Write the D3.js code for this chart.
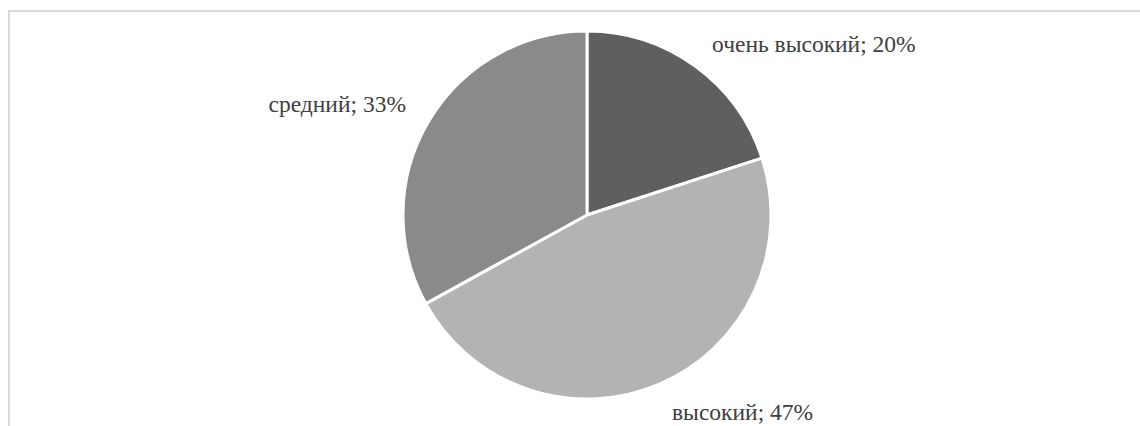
<!DOCTYPE html>
<html><head><meta charset="utf-8">
<script src="https://cdn.jsdelivr.net/npm/d3@7"></script>
<style>html,body{margin:0;padding:0;background:#fff;}svg{display:block;}
text.lbl{font-family:"Liberation Serif","Times New Roman",serif;}</style>
</head><body>
<svg id="c" width="1140" height="426"></svg>
<script>
const categories = ["очень высокий", "высокий", "средний"];
const values = [20, 47, 33];
const colors = ["#5f5f5f", "#b3b3b3", "#8a8a8a"];
const labelPos = [[712, 52, "start"], [672, 420, "start"], [406, 112, "end"]];

const svg = d3.select("#c");
svg.append("path").attr("d", "M9,426 V11 H1140").attr("fill", "none").attr("stroke", "#d9d9d9").attr("stroke-width", 2);

const cx = 587, cy = 215, r = 184;
const pie = d3.pie().sort(null).value(d => d)(values);
const arc = d3.arc().innerRadius(0).outerRadius(r);
const g = svg.append("g").attr("transform", `translate(${cx},${cy})`);
g.selectAll("path").data(pie).join("path")
  .attr("d", arc).attr("fill", (d, i) => colors[i])
  .attr("stroke", "#fff").attr("stroke-width", 3).attr("stroke-linejoin", "round");

svg.selectAll("text.lbl").data(pie).join("text").attr("class", "lbl")
  .attr("x", (d, i) => labelPos[i][0]).attr("y", (d, i) => labelPos[i][1])
  .attr("text-anchor", (d, i) => labelPos[i][2])
  .attr("font-size", 23.5).attr("fill", "#404040")
  .text((d, i) => `${categories[i]}; ${values[i]}%`);
</script>
</body></html>
